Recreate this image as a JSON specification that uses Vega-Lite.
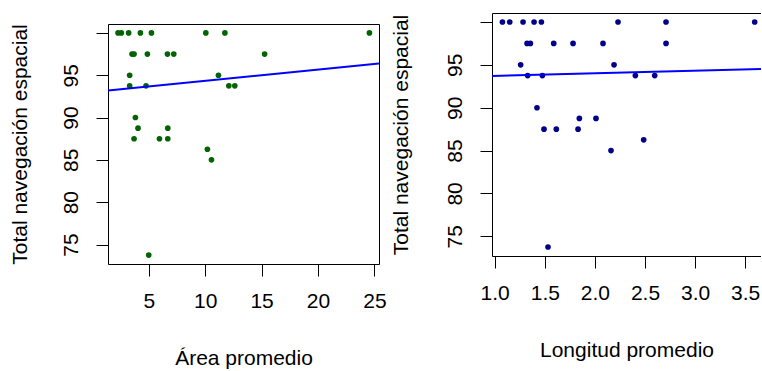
{
  "$schema": "https://vega.github.io/schema/vega-lite/v6.json",
  "background": "white",
  "padding": {"left": 8, "top": 13, "right": 0, "bottom": 0},
  "spacing": 2,
  "config": {
    "font": "Liberation Sans",
    "view": {"stroke": "black", "strokeWidth": 1},
    "axis": {
      "grid": false, "domain": false, "tickColor": "black", "tickSize": 12, "tickWidth": 1,
      "labelFontSize": 21, "titleFontSize": 21, "labelColor": "black", "titleColor": "black",
      "titleFontWeight": "normal", "labelFont": "Liberation Sans", "titleFont": "Liberation Sans",
      "domainColor": "black"
    },
    "axisY": {"labelAngle": -90, "labelAlign": "center", "labelBaseline": "middle", "labelPadding": 25, "titlePadding": 30, "labelExpr": "datum.value == 100 ? '' : datum.label"},
    "axisX": {"labelPadding": 14, "titlePadding": 36}
  },
  "datasets": {
    "d": [
      {"area": 2.28, "longitud": 1.077, "total": 100},
      {"area": 2.57, "longitud": 1.150, "total": 100},
      {"area": 3.22, "longitud": 1.283, "total": 100},
      {"area": 4.26, "longitud": 1.393, "total": 100},
      {"area": 5.24, "longitud": 1.466, "total": 100},
      {"area": 10.06, "longitud": 2.231, "total": 100},
      {"area": 11.75, "longitud": 2.710, "total": 100},
      {"area": 24.56, "longitud": 3.595, "total": 100},
      {"area": 3.52, "longitud": 1.323, "total": 97.5},
      {"area": 3.70, "longitud": 1.356, "total": 97.5},
      {"area": 4.88, "longitud": 1.589, "total": 97.5},
      {"area": 6.66, "longitud": 1.782, "total": 97.5},
      {"area": 7.22, "longitud": 2.081, "total": 97.5},
      {"area": 15.27, "longitud": 2.710, "total": 97.5},
      {"area": 3.31, "longitud": 1.259, "total": 95},
      {"area": 11.18, "longitud": 2.191, "total": 95},
      {"area": 3.31, "longitud": 1.329, "total": 93.75},
      {"area": 4.76, "longitud": 1.476, "total": 93.75},
      {"area": 12.1, "longitud": 2.404, "total": 93.75},
      {"area": 12.63, "longitud": 2.597, "total": 93.75},
      {"area": 3.82, "longitud": 1.422, "total": 90},
      {"area": 4.05, "longitud": 1.845, "total": 88.75},
      {"area": 6.69, "longitud": 2.011, "total": 88.75},
      {"area": 3.70, "longitud": 1.492, "total": 87.5},
      {"area": 5.95, "longitud": 1.615, "total": 87.5},
      {"area": 6.69, "longitud": 1.832, "total": 87.5},
      {"area": 10.2, "longitud": 2.487, "total": 86.25},
      {"area": 10.56, "longitud": 2.161, "total": 85},
      {"area": 5.0, "longitud": 1.532, "total": 73.75}
    ]
  },
  "hconcat": [
    {
      "spacing": 9,
      "vconcat": [
        {
          "width": 271,
          "height": 1,
          "data": {"values": []},
          "mark": "point",
          "view": {"stroke": null}
        },
        {
          "width": 271,
          "height": 240,
          "data": {"name": "d"},
          "layer": [
            {
              "mark": {"type": "circle", "size": 32, "color": "#006400", "opacity": 1},
              "encoding": {
                "x": {"field": "area", "type": "quantitative", "scale": {"domain": [1.39, 25.41], "nice": false, "zero": false}, "axis": {"values": [5, 10, 15, 20, 25], "title": "Área promedio"}},
                "y": {"field": "total", "type": "quantitative", "scale": {"domain": [72.7, 101.05], "nice": false, "zero": false}, "axis": {"values": [75, 80, 85, 90, 95, 100], "title": "Total navegación espacial"}}
              }
            },
            {
              "transform": [{"regression": "total", "on": "area", "extent": [1.39, 25.41]}],
              "mark": {"type": "line", "color": "#0000FF", "strokeWidth": 2, "clip": true},
              "encoding": {
                "x": {"field": "area", "type": "quantitative"},
                "y": {"field": "total", "type": "quantitative"}
              }
            }
          ]
        }
      ]
    },
    {
      "width": 269,
      "height": 243,
      "view": {"stroke": null},
      "data": {"name": "d"},
      "layer": [
        {
          "mark": {"type": "circle", "size": 32, "color": "#00008B", "opacity": 1},
          "encoding": {
            "x": {"field": "longitud", "type": "quantitative", "scale": {"domain": [0.973, 3.658], "nice": false, "zero": false}, "axis": {"values": [1.0, 1.5, 2.0, 2.5, 3.0, 3.5], "format": ".1f", "title": "Longitud promedio", "domain": true}},
            "y": {"field": "total", "type": "quantitative", "scale": {"domain": [72.7, 101.05], "nice": false, "zero": false}, "axis": {"values": [75, 80, 85, 90, 95, 100], "title": "Total navegación espacial", "domain": true, "titlePadding": 33}}
          }
        },
        {
          "transform": [{"regression": "total", "on": "longitud", "extent": [0.973, 3.658]}],
          "mark": {"type": "line", "color": "#0000FF", "strokeWidth": 2, "clip": true},
          "encoding": {
            "x": {"field": "longitud", "type": "quantitative", "axis": {"orient": "top", "labels": false, "ticks": false, "domain": true, "title": null, "grid": false}},
            "y": {"field": "total", "type": "quantitative"}
          }
        }
      ],
      "resolve": {"axis": {"x": "independent"}}
    }
  ]
}
